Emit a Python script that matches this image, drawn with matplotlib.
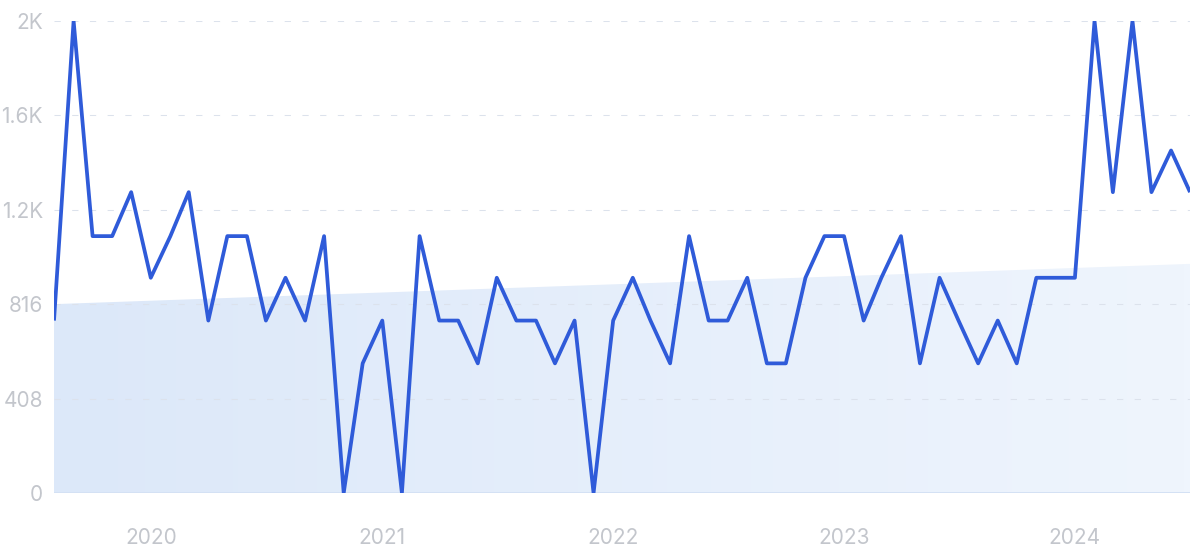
import numpy as np
import pandas as pd
import matplotlib
matplotlib.use("Agg")
import matplotlib.pyplot as plt
from matplotlib.colors import LinearSegmentedColormap
from matplotlib.patches import Polygon

plt.rcParams["font.family"] = ["Inter", "DejaVu Sans"]

# ---------------------------------------------------------------
# Data (monthly search volume, Aug 2019 - Jul 2024)
# ---------------------------------------------------------------
months = pd.date_range("2019-08-01", periods=60, freq="MS")
volume = [
    745, 2040, 1110, 1110, 1300, 930, 1110, 1300, 745, 1110,
    1110, 745, 930, 745, 1110, 0, 560, 745, 0, 1110,
    745, 745, 560, 930, 745, 745, 560, 745, 0, 745,
    930, 745, 560, 1110, 745, 745, 930, 560, 560, 930,
    1110, 1110, 745, 930, 1110, 560, 930, 745, 560, 745,
    560, 930, 930, 930, 2040, 1300, 2040, 1300, 1480, 1300,
]
trend_ends = [816, 990]  # linear trend at first / last month

y_ticks = [0, 408, 816, 1224, 1632, 2040]
y_tick_labels = ["0", "408", "816", "1.2K", "1.6K", "2K"]
year_ticks = pd.to_datetime(["2020-01-01", "2021-01-01", "2022-01-01",
                             "2023-01-01", "2024-01-01"])
year_labels = ["2020", "2021", "2022", "2023", "2024"]

LINE_COLOR = "#2f5bd9"
TEXT_COLOR = "#c3c6cc"
GRID_COLOR = "#dce2ec"

fig = plt.figure(figsize=(12, 5.57), dpi=100)
ax = fig.add_axes([0.045, 0.115, 0.9467, 0.8474])

x_num = matplotlib.dates.date2num(months)
x0, x1 = x_num[0], x_num[-1]

# ---------------------------------------------------------------
# Trend area with a soft horizontal gradient
# ---------------------------------------------------------------
trend_poly = Polygon([(x0, 0), (x0, trend_ends[0]), (x1, trend_ends[1]), (x1, 0)],
                     closed=True, facecolor="none", edgecolor="none")
ax.add_patch(trend_poly)
cmap = LinearSegmentedColormap.from_list("fade", ["#dce8f9", "#eff5fd"])
grad = np.linspace(0, 1, 256).reshape(1, -1)
img = ax.imshow(grad, cmap=cmap, aspect="auto", extent=[x0, x1, 0, trend_ends[1]],
                zorder=1, interpolation="bicubic")
img.set_clip_path(trend_poly)
ax.plot([x0, x1], [0, 0], color="#d4e1f4", lw=1.4, zorder=2, solid_capstyle="butt")

# dashed gridlines
for yt in y_ticks[1:]:
    ax.plot([x0, x1], [yt, yt], color=GRID_COLOR, lw=0.75,
            linestyle=(0, (6, 11)), zorder=2)

# main line
ax.plot(months, volume, color=LINE_COLOR, lw=2.7, zorder=3,
        solid_joinstyle="round", solid_capstyle="butt")

ax.set_xlim(x0, x1)
ax.set_ylim(0, 2040)
ax.set_yticks(y_ticks)
ax.set_yticklabels(y_tick_labels)
ax.set_xticks(year_ticks)
ax.set_xticklabels(year_labels)
ax.tick_params(axis="y", length=0, pad=8, labelsize=15, labelcolor=TEXT_COLOR)
ax.tick_params(axis="x", length=0, pad=25, labelsize=15, labelcolor=TEXT_COLOR)
for spine in ax.spines.values():
    spine.set_visible(False)
ax.set_facecolor("none")

fig.savefig("out.png", dpi=100)
